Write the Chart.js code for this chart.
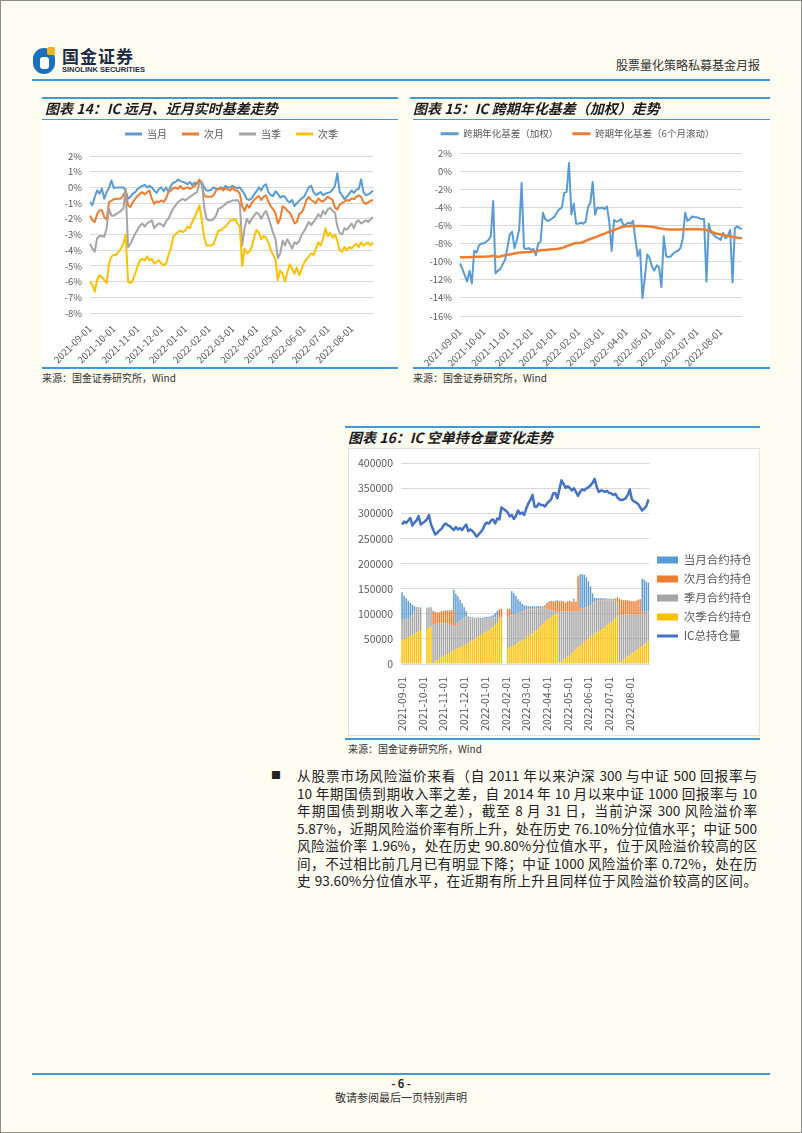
<!DOCTYPE html>
<html lang="zh-CN">
<head>
<meta charset="utf-8">
<title>股票量化策略私募基金月报</title>
<script src="https://cdn.jsdelivr.net/npm/chart.js@4.4.1/dist/chart.umd.min.js"></script>
<style>
  html, body { margin: 0; padding: 0; }
  body {
    position: relative; width: 802px; height: 1133px; overflow: hidden;
    background: #fffcf2; color: #222;
    font-family: 'Noto Sans CJK SC', 'Noto Sans', sans-serif;
  }
  .abs { position: absolute; white-space: nowrap; }
  .frame { position: absolute; left: 0; top: 0; width: 800px; height: 1131px; border: 1px solid #8c8c8c; }
  .rule { position: absolute; background: #3d9bd8; z-index: 3; }
  .panel { position: absolute; background: #fff; }
  .cv { position: absolute; z-index: 2; }
  .ttl { position: absolute; z-index: 4; font-size: 14px; line-height: 16px; font-weight: bold; font-style: italic; color: #1b1b1b; white-space: nowrap; }
  .src { position: absolute; font-size: 10px; line-height: 12px; color: #333; white-space: nowrap; }
  .para { position: absolute; left: 297px; width: 460px; height: 18px; font-size: 13.6px; line-height: 18px;
          text-align: justify; text-align-last: justify; white-space: nowrap; color: #222; }
</style>
</head>
<body>
<div class="frame"></div>

<!-- 页眉 -->
<div class="abs" style="left:33px;top:48px;width:22px;height:26px;border-radius:11px;background:#1b6fbe;"></div>
<div class="abs" style="left:40px;top:57px;width:9px;height:12px;border-radius:3px;background:#fff;"></div>
<div class="abs" style="left:47px;top:47px;width:8px;height:8px;border-radius:2px;background:#f2b21b;"></div>
<div class="abs" style="left:62px;top:46px;font-size:17px;line-height:20px;font-weight:bold;color:#1d2a44;letter-spacing:1px;">国金证券</div>
<div class="abs" style="left:62px;top:65px;font-size:7.5px;line-height:9px;font-weight:bold;color:#1d2a44;font-family:'Liberation Sans',sans-serif;">SINOLINK SECURITIES</div>
<div class="abs" style="left:560px;top:57px;width:200px;text-align:right;font-size:12px;line-height:16px;color:#333;">股票量化策略私募基金月报</div>
<div class="rule" style="left:32px;top:79px;width:738px;height:2px;"></div>

<!-- 图表 14 -->
<div class="rule" style="left:42px;top:97px;width:356px;height:2px;"></div>
<div class="ttl" style="left:45px;top:100px;">图表 14：IC 远月、近月实时基差走势</div>
<div class="rule" style="left:42px;top:119px;width:356px;height:1px;"></div>
<div class="panel" style="left:42px;top:120px;width:356px;height:247px;"></div>
<canvas id="c14" class="cv" width="356" height="253" style="left:42px;top:114px;"></canvas>
<div class="rule" style="left:42px;top:367px;width:356px;height:2px;"></div>
<div class="src" style="left:42px;top:372px;">来源：国金证券研究所，Wind</div>

<!-- 图表 15 -->
<div class="rule" style="left:410px;top:97px;width:360px;height:2px;"></div>
<div class="ttl" style="left:413px;top:100px;">图表 15：IC 跨期年化基差（加权）走势</div>
<div class="rule" style="left:413px;top:119px;width:357px;height:1px;"></div>
<div class="panel" style="left:413px;top:120px;width:357px;height:247px;"></div>
<canvas id="c15" class="cv" width="357" height="252" style="left:413px;top:115px;"></canvas>
<div class="rule" style="left:413px;top:367px;width:357px;height:2px;"></div>
<div class="src" style="left:413px;top:372px;">来源：国金证券研究所，Wind</div>

<!-- 图表 16 -->
<div class="rule" style="left:345px;top:426px;width:415px;height:2px;"></div>
<div class="ttl" style="left:348px;top:429px;">图表 16：IC 空单持仓量变化走势</div>
<div class="panel" style="left:348px;top:448px;width:410px;height:286px;border:1px solid #e3e3e3;"></div>
<canvas id="c16" class="cv" width="412" height="286" style="left:348px;top:449px;"></canvas>
<div class="rule" style="left:345px;top:738px;width:415px;height:2px;"></div>
<div class="src" style="left:348px;top:743px;">来源：国金证券研究所，Wind</div>

<!-- 正文 -->
<div class="abs" style="left:271px;top:767px;font-size:10px;line-height:16px;color:#222;">■</div>
<div class="para" style="top:766px;">从股票市场风险溢价来看（自 2011 年以来沪深 300 与中证 500 回报率与</div>
<div class="para" style="top:783.5px;">10 年期国债到期收入率之差，自 2014 年 10 月以来中证 1000 回报率与 10</div>
<div class="para" style="top:801px;">年期国债到期收入率之差），截至 8 月 31 日，当前沪深 300 风险溢价率</div>
<div class="para" style="top:818.5px;">5.87%，近期风险溢价率有所上升，处在历史 76.10%分位值水平；中证 500</div>
<div class="para" style="top:836px;">风险溢价率 1.96%，处在历史 90.80%分位值水平，位于风险溢价较高的区</div>
<div class="para" style="top:853.5px;">间，不过相比前几月已有明显下降；中证 1000 风险溢价率 0.72%，处在历</div>
<div class="para" style="top:871px;">史 93.60%分位值水平，在近期有所上升且同样位于风险溢价较高的区间。</div>

<!-- 页脚 -->
<div class="rule" style="left:32px;top:1073px;width:738px;height:2px;"></div>
<div class="abs" style="left:0;top:1076px;width:802px;text-align:center;font-size:11px;line-height:14px;font-weight:bold;color:#222;">- 6 -</div>
<div class="abs" style="left:0;top:1090px;width:802px;text-align:center;font-size:11px;line-height:14px;color:#333;">敬请参阅最后一页特别声明</div>

<script>
// 月份刻度（每月 10 个取样点）
const months = ['2021-09-01', '2021-10-01', '2021-11-01', '2021-12-01', '2022-01-01', '2022-02-01',
                '2022-03-01', '2022-04-01', '2022-05-01', '2022-06-01', '2022-07-01', '2022-08-01'];
const pointsPerMonth = 10;
const labels = months.flatMap(m => [m].concat(Array(pointsPerMonth - 1).fill('')));

// 图表 14：实时基差 (%)
const basisCur = [
  -0.93, -1.14, -0.61, -0.19, -0.4, -0.08, -0.72, -0.3, -0.04, 0.44,
  -0.04, 0, 0, 0, 0, -0.2, -0.72, -0.6, -0.4, -0.3,
  -0.1, 0, 0.1, 0.15, 0, 0.1, 0, -0.2, -0.35, -0.1,
  0, -0.25, 0, -0.3, 0.1, 0.3, 0.35, 0.5, 0.4, 0.35,
  0.3, 0.2, 0.35, 0.15, 0.3, 0.25, 0.4, 0.35, 0, -0.2,
  -0.2, -0.15, 0, -0.1, -0.1, 0, -0.1, 0.1, 0, 0,
  0.1, 0, -0.05, 0, -0.2, -0.45, -0.75, -0.8, -0.7, -0.45,
  -0.25, 0, -0.2, 0.1, 0.2, -0.3, -0.5, -0.55, -0.25, -0.4,
  -0.65, -0.55, -0.6, -0.85, -0.95, -0.8, -1.2, -1.0, -0.85, -0.7,
  -0.6, -0.3, 0, 0.1, -0.3, -0.5, -0.4, -0.3, -0.5, -0.4,
  -0.35, -0.3, -0.15, 0.1, 0.9, -0.3, -0.5, -0.75, -0.6, -0.4,
  -0.2, -0.35, -0.15, -0.1, 0.5, -0.3, -0.5, -0.45, -0.35, -0.2
];
const basisNext = [
  -1.8, -2.1, -2.2, -1.7, -1.45, -1.45, -1.9, -2.05, -0.95, -0.85,
  -0.75, -0.72, -0.72, -0.7, -0.5, -0.2, -1.15, -1.25, -0.95, -0.72,
  -0.55, -0.4, -0.3, -0.45, -0.3, -0.2, -0.72, -1.05, -0.9, -0.93,
  -0.83, -0.93, -0.7, -0.3, -0.2, -0.05, 0, -0.1, 0.1, -0.1,
  -0.05, 0, -0.1, 0, 0.1, 0.25, 0.5, 0.15, -0.5, -0.6,
  -0.6, -0.6, -0.5, -0.2, -0.1, -0.05, -0.2, -0.05, -0.12, -0.2,
  0, -0.2, -0.2, -0.4, -1.2, -1.5, -1.1, -1.3, -1.0, -0.8,
  -0.65, -0.55, -0.8, -0.6, -0.5, -0.9, -1.2, -1.4, -1.65, -2.3,
  -2.0, -1.2, -1.3, -1.5, -1.6, -1.9, -2.3, -2.2, -1.7, -1.6,
  -1.3, -0.8, -0.6, -0.8, -0.9, -1.0, -0.7, -0.85, -0.9, -0.75,
  -0.6, -0.7, -0.8, -1.3, -1.4, -1.1, -1.0, -0.9, -0.8, -0.85,
  -0.7, -0.75, -0.6, -0.5, -0.6, -0.95, -1.05, -0.95, -0.85, -0.8
];
const basisQuarter = [
  -3.6, -3.9, -4.1, -3.25, -3.1, -3.1, -3.15, -2.6, -1.35, -1.8,
  -1.8, -1.7, -1.6, -1.5, -1.35, -0.1, -3.8, -3.6, -3.25, -2.95,
  -2.7, -2.45, -2.3, -2.5, -2.3, -2.2, -2.1, -2.6, -2.4, -2.3,
  -2.35, -2.5, -2.15, -2.0, -1.65, -1.35, -1.15, -0.93, -0.83, -0.72,
  -0.83, -0.72, -0.6, -0.5, -0.4, -0.3, 0.25, 0.35, -1.25, -2.0,
  -2.1, -2.1, -2.0, -1.8, -1.35, -1.3, -1.2, -1.05, -0.93, -0.9,
  -0.83, -0.83, -0.8, -1.0, -3.7, -2.6, -2.0, -2.3, -2.0, -1.8,
  -1.6, -1.7, -2.0, -1.7, -1.5, -1.9, -2.4, -2.9, -3.3, -4.5,
  -4.2, -3.4, -3.7, -3.3, -3.6, -3.9, -3.5, -3.6, -3.4, -3.0,
  -2.8, -2.5, -2.2, -2.4, -2.2, -2.0, -1.7, -1.9, -1.5, -1.7,
  -1.4, -1.3, -1.5, -1.6, -2.5, -2.9, -3.0, -2.6, -2.7, -2.5,
  -2.3, -2.6, -2.2, -2.1, -2.3, -2.2, -2.1, -2.2, -2.0, -1.9
];
const basisNextQuarter = [
  -6.0, -6.2, -6.65, -5.9, -5.6, -5.7, -5.9, -6.1, -4.85, -4.4,
  -4.3, -4.3, -4.1, -3.9, -3.6, -3.0, -6.0, -6.1, -5.9, -5.5,
  -5.05, -4.65, -4.55, -4.65, -4.4, -4.65, -4.55, -4.85, -4.75, -4.65,
  -4.85, -4.95, -4.85, -4.3, -3.9, -3.15, -2.95, -2.85, -2.75, -2.85,
  -2.75, -2.5, -2.6, -2.2, -1.9, -1.55, -1.15, -2.1, -3.15, -3.7,
  -3.7, -3.7, -3.6, -3.15, -2.75, -2.75, -2.6, -2.5, -2.3, -2.1,
  -2.1, -2.0, -2.3, -2.5, -5.0, -3.9, -4.2, -4.1, -3.8, -3.2,
  -2.7, -2.9, -3.3, -3.1, -3.2, -3.5, -4.0, -4.3, -4.6, -5.9,
  -5.3, -5.5, -6.0, -5.4, -4.9, -5.2, -5.5, -5.1, -5.6, -5.2,
  -4.8, -4.6, -4.4, -4.2, -4.3, -3.9, -3.5, -3.7, -3.3, -2.6,
  -3.1, -2.9, -3.2, -3.0, -3.4, -4.0, -4.1, -3.8, -4.0, -3.8,
  -3.9, -3.7, -3.6, -3.8, -3.5, -3.7, -3.6, -3.5, -3.7, -3.5
];

// 图表 15：跨期年化基差 (%)
const spreadWeighted = [
  -10.2, -10.8, -11.5, -12.2, -11.0, -12.4, -8.8, -9.0, -8.2, -8.0,
  -8.0, -7.8, -7.6, -7.2, -3.3, -11.3, -11.0, -10.8, -10.3, -9.8,
  -8.5, -7.0, -6.7, -8.5, -7.6, -6.4, -1.3, -8.5, -8.6, -8.5,
  -8.7, -8.6, -9.3, -8.0, -7.8, -4.6, -5.3, -5.5, -5.4, -5.2,
  -5.0, -4.5, -4.2, -4.0, -2.4, -2.3, 0.9, -4.8, -3.6, -5.8,
  -5.8, -5.7, -5.8, -5.6, -4.0, -3.5, -1.2, -4.8, -4.0, -4.1,
  -4.0, -4.2, -3.9, -5.6, -8.8, -5.4, -5.6, -5.5, -5.3, -6.0,
  -5.9, -5.7, -5.8, -5.5, -7.5, -9.4, -8.7, -14.0, -11.8, -9.2,
  -9.6, -10.5, -11.0, -10.4, -10.6, -12.8, -7.2, -9.4, -9.5, -9.4,
  -9.1, -8.9, -8.8, -8.5, -7.5, -4.6, -5.5, -5.3, -5.0, -5.1,
  -5.1, -5.2, -5.3, -5.3, -12.2, -5.8, -6.8, -7.0, -7.3, -7.4,
  -7.6, -6.8, -7.4, -7.2, -6.5, -12.3, -6.3, -6.1, -6.3, -6.4
];
const spreadRolling6m = [
  -9.5, -9.5, -9.5, -9.5, -9.5, -9.48, -9.47, -9.46, -9.45, -9.45,
  -9.45, -9.44, -9.42, -9.4, -9.35, -9.4, -9.45, -9.42, -9.35, -9.3,
  -9.25, -9.2, -9.15, -9.1, -9.05, -9.0, -8.98, -8.95, -8.95, -8.93,
  -8.9, -8.88, -8.85, -8.8, -8.75, -8.72, -8.7, -8.68, -8.66, -8.64,
  -8.62, -8.6, -8.55, -8.5, -8.4, -8.3, -8.2, -8.1, -8.0, -7.95,
  -7.93, -7.9, -7.85, -7.7, -7.6, -7.5, -7.4, -7.3, -7.2, -7.1,
  -7.0, -6.9, -6.8, -6.7, -6.6, -6.5, -6.4, -6.3, -6.2, -6.15,
  -6.1, -6.08, -6.06, -6.05, -6.05, -6.05, -6.05, -6.06, -6.08, -6.1,
  -6.12, -6.15, -6.2, -6.25, -6.3, -6.35, -6.4, -6.42, -6.45, -6.45,
  -6.45, -6.45, -6.45, -6.44, -6.43, -6.42, -6.42, -6.42, -6.42, -6.42,
  -6.42, -6.43, -6.44, -6.45, -6.5, -6.6, -6.7, -6.8, -6.9, -6.95,
  -7.0, -7.05, -7.1, -7.15, -7.2, -7.25, -7.3, -7.35, -7.38, -7.4
];

// 图表 16：空单持仓（手）
const oiCurMonth = [
  55000, 48000, 42000, 36000, 28000, 20000, 10000, 3000, 1000, 1000,
  null, null, 1000, 1000, 1000, 2000, 1000, 1000, 1000, 1000,
  1000, 1000, 1000, 1000, 1000, 42000, 60000, 52000, 42000, 32000,
  20000, 10000, 3000, 2000, 2000, 2000, 2000, 2000, 2000, 2000,
  3000, 3000, 3000, 3000, 4000, 8000, 10000, 1000, 0, null,
  null, 0, 0, 46000, 43000, 36000, 28000, 22000, 15000, 10000,
  7000, 5000, 5000, 5000, 5000, 5000, 4000, 3000, 2000, 2000,
  2000, 1000, 1000, 1000, 1000, 1000, 1000, 0, 0, 0,
  0, 0, 0, 4000, 0, 0, 68000, 68000, 66000, 60000,
  50000, 38000, 20000, 8000, 5000, 4000, 4000, 3000, 3000, 2000,
  2000, 2000, 1000, 1000, 1000, 0, 0, 0, 0, 0,
  0, 0, 0, 0, 0, 0, 65000, 64000, 60000, 58000
];
const oiNextMonth = [
  0, 0, 0, 0, 0, 0, 0, 0, 0, 0,
  null, null, 0, 0, 0, 26000, 24000, 22000, 22000, 24000,
  24000, 25000, 26000, 28000, 30000, 30000, 5000, 3000, 2000, 1000,
  1000, 1000, 0, 0, 0, 0, 0, 0, 0, 0,
  0, 0, 0, 0, 0, 0, 2000, 16000, 16000, null,
  null, 18000, 14000, 3000, 2000, 2000, 1000, 1000, 1000, 1000,
  1000, 1000, 1000, 1000, 1000, 1000, 1000, 1000, 2000, 4000,
  10000, 16000, 18000, 18000, 20000, 22000, 22000, 22000, 20000, 18000,
  20000, 22000, 20000, 22000, 20000, 70000, 5000, 3000, 2000, 1000,
  1000, 1000, 1000, 1000, 1000, 1000, 1000, 1000, 1000, 1000,
  1000, 1000, 2000, 4000, 10000, 33000, 32000, 30000, 29000, 28000,
  28000, 27000, 27000, 28000, 30000, 30000, 5000, 3000, 2000, 1000
];
const oiQuarter = [
  40000, 38000, 37000, 36000, 38000, 40000, 45000, 47000, 46000, 44000,
  null, null, 41000, 40000, 38000, 76000, 74000, 72000, 70000, 68000,
  66000, 64000, 60000, 56000, 52000, 48000, 45000, 48000, 50000, 52000,
  54000, 54000, 50000, 46000, 43000, 40000, 37000, 34000, 32000, 29000,
  27000, 25000, 23000, 21000, 19000, 16000, 14000, 4000, 2000, null,
  null, 60000, 62000, 60000, 58000, 58000, 57000, 57000, 56000, 56000,
  55000, 53000, 50000, 47000, 44000, 41000, 38000, 35000, 31000, 27000,
  22000, 18000, 14000, 10000, 6000, 4000, 100000, 98000, 96000, 92000,
  90000, 86000, 82000, 78000, 74000, 72000, 70000, 68000, 66000, 64000,
  62000, 61000, 62000, 62000, 62000, 60000, 58000, 56000, 53000, 50000,
  47000, 44000, 41000, 36000, 28000, 94000, 90000, 88000, 86000, 84000,
  80000, 77000, 74000, 71000, 68000, 66000, 64000, 62000, 60000, 58000
];
const oiNextQuarter = [
  48000, 50000, 52000, 54000, 56000, 58000, 60000, 63000, 66000, 68000,
  null, null, 70000, 72000, 74000, 2000, 5000, 8000, 10000, 13000,
  15000, 17000, 20000, 22000, 25000, 28000, 30000, 32000, 34000, 36000,
  38000, 40000, 42000, 45000, 48000, 50000, 53000, 56000, 58000, 61000,
  63000, 66000, 68000, 71000, 74000, 77000, 80000, 88000, 92000, null,
  null, 32000, 34000, 36000, 38000, 40000, 43000, 45000, 48000, 50000,
  53000, 56000, 59000, 62000, 65000, 68000, 72000, 76000, 80000, 84000,
  88000, 90000, 93000, 96000, 99000, 100000, 3000, 6000, 9000, 12000,
  15000, 18000, 22000, 26000, 30000, 33000, 36000, 40000, 44000, 48000,
  52000, 55000, 58000, 61000, 63000, 66000, 68000, 71000, 74000, 77000,
  80000, 83000, 86000, 90000, 94000, 3000, 6000, 9000, 12000, 15000,
  18000, 21000, 24000, 27000, 30000, 33000, 36000, 39000, 42000, 45000
];
const oiTotal = [
  278000, 284000, 281000, 286000, 291000, 276000, 282000, 286000, 295000, 278000,
  281000, 284000, 288000, 297000, 278000, 268000, 258000, 261000, 266000, 269000,
  276000, 280000, 277000, 275000, 271000, 267000, 273000, 268000, 271000, 267000,
  273000, 278000, 265000, 268000, 265000, 260000, 254000, 258000, 263000, 268000,
  278000, 282000, 280000, 286000, 288000, 280000, 290000, 288000, 312000, 309000,
  306000, 302000, 294000, 297000, 289000, 295000, 306000, 299000, 302000, 297000,
  310000, 320000, 327000, 337000, 314000, 313000, 320000, 317000, 317000, 314000,
  320000, 324000, 328000, 340000, 341000, 330000, 348000, 366000, 359000, 351000,
  354000, 351000, 346000, 350000, 343000, 335000, 343000, 348000, 346000, 350000,
  352000, 356000, 361000, 369000, 353000, 343000, 346000, 345000, 343000, 345000,
  341000, 340000, 337000, 339000, 332000, 328000, 327000, 328000, 330000, 337000,
  348000, 328000, 324000, 322000, 319000, 312000, 306000, 310000, 315000, 328000
];

Chart.defaults.font.family = "'Noto Sans CJK SC', sans-serif";
Chart.defaults.color = '#595959';

const gridColor = '#d9d9d9';
const monthTick = (v, i) => labels[i] || null;
const byIndex = (a, b) => a.datasetIndex - b.datasetIndex;

// 图例线段样式
function lineLegend(chart) {
  return Chart.defaults.plugins.legend.labels.generateLabels(chart).map(item => {
    item.pointStyle = 'line';
    item.lineWidth = 3;
    return item;
  });
}

// 图例与绘图区之间的留白
function spacer(h) {
  return {
    type: 'category', position: 'top',
    grid: { display: false, drawTicks: false }, border: { display: false },
    ticks: { display: false },
    afterFit: s => { s.height = h; }
  };
}

function lineSet(label, data, color, order, width) {
  return {
    label: label, data: data, borderColor: color, backgroundColor: color,
    borderWidth: width || 2, pointRadius: 0, tension: 0, borderJoinStyle: 'round', order: order
  };
}

// 图表 14
new Chart(document.getElementById('c14'), {
  type: 'line',
  data: {
    labels: labels,
    datasets: [
      lineSet('当月', basisCur, '#5B9BD5', 4),
      lineSet('次月', basisNext, '#ED7D31', 3),
      lineSet('当季', basisQuarter, '#A5A5A5', 2),
      lineSet('次季', basisNextQuarter, '#FFC000', 1)
    ]
  },
  options: {
    responsive: false, animation: false, devicePixelRatio: 1,
    layout: { padding: { left: 0, right: 25, top: 0, bottom: 0 } },
    plugins: {
      legend: {
        position: 'top', fullSize: false,
        labels: { usePointStyle: true, pointStyleWidth: 17, boxHeight: 10, padding: 15,
                  color: '#595959', font: { size: 10 }, generateLabels: lineLegend, sort: byIndex }
      },
      tooltip: { enabled: false }
    },
    scales: {
      x: {
        grid: { display: false }, border: { display: false },
        ticks: { autoSkip: false, minRotation: 45, maxRotation: 45, padding: 2,
                 font: { size: 9.5 }, color: '#595959', callback: monthTick },
        afterFit: s => { s.height = 54; }
      },
      pad: spacer(7),
      y: {
        min: -8, max: 2,
        grid: { color: gridColor, drawTicks: false }, border: { display: false },
        ticks: { stepSize: 1, padding: 8, font: { size: 9.5 }, color: '#595959', callback: v => v + '%' },
        afterFit: s => { s.width = 48; }
      }
    }
  }
});

// 图表 15
new Chart(document.getElementById('c15'), {
  type: 'line',
  data: {
    labels: labels,
    datasets: [
      lineSet('跨期年化基差（加权）', spreadWeighted, '#5B9BD5', 2),
      lineSet('跨期年化基差（6个月滚动）', spreadRolling6m, '#ED7D31', 1, 2.5)
    ]
  },
  options: {
    responsive: false, animation: false, devicePixelRatio: 1,
    layout: { padding: { left: 0, right: 28, top: 0, bottom: 0 } },
    plugins: {
      legend: {
        position: 'top',
        labels: { usePointStyle: true, pointStyleWidth: 18, boxHeight: 9.5, padding: 14,
                  color: '#595959', font: { size: 9.5 }, generateLabels: lineLegend, sort: byIndex }
      },
      tooltip: { enabled: false }
    },
    scales: {
      x: {
        grid: { display: false }, border: { display: false },
        ticks: { autoSkip: false, minRotation: 45, maxRotation: 45, padding: 2,
                 font: { size: 9.5 }, color: '#595959', callback: monthTick },
        afterFit: s => { s.height = 51; }
      },
      pad: spacer(4.5),
      y: {
        min: -16, max: 2,
        grid: { color: gridColor, drawTicks: false }, border: { display: false },
        ticks: { stepSize: 2, padding: 8, font: { size: 9.5 }, color: '#595959', callback: v => v + '%' },
        afterFit: s => { s.width = 47; }
      }
    }
  }
});

// 图表 16
const legendRank = [3, 2, 1, 0, 4];
function barSet(label, data, color) {
  return { type: 'bar', label: label, data: data, backgroundColor: color, borderWidth: 0,
           barPercentage: 0.7, categoryPercentage: 1, stack: 'oi' };
}

new Chart(document.getElementById('c16'), {
  type: 'bar',
  data: {
    labels: labels,
    datasets: [
      barSet('次季合约持仓', oiNextQuarter, '#FFC000'),
      barSet('季月合约持仓', oiQuarter, '#A5A5A5'),
      barSet('次月合约持仓', oiNextMonth, '#ED7D31'),
      barSet('当月合约持仓', oiCurMonth, '#5B9BD5'),
      { type: 'line', label: 'IC总持仓量', data: oiTotal, borderColor: '#4472C4', backgroundColor: '#4472C4',
        borderWidth: 2.5, pointRadius: 0, tension: 0, borderJoinStyle: 'round', stack: 'total', order: -1 }
    ]
  },
  options: {
    responsive: false, animation: false, devicePixelRatio: 1,
    layout: { padding: { left: 0, right: 10, top: 12, bottom: 0 } },
    plugins: {
      legend: {
        position: 'right',
        labels: {
          usePointStyle: true, pointStyleWidth: 21, boxHeight: 7, padding: 7.5,
          color: '#595959', font: { size: 11.5 },
          generateLabels: chart => Chart.defaults.plugins.legend.labels.generateLabels(chart).map(item => {
            item.pointStyle = item.datasetIndex === 4 ? 'line' : 'rect';
            if (item.datasetIndex === 4) item.lineWidth = 3;
            return item;
          }),
          sort: (a, b) => legendRank[a.datasetIndex] - legendRank[b.datasetIndex]
        }
      },
      tooltip: { enabled: false }
    },
    scales: {
      x: {
        stacked: true,
        grid: { display: false }, border: { display: false },
        ticks: { autoSkip: false, minRotation: 90, maxRotation: 90, padding: 5,
                 font: { size: 10.5 }, color: '#595959', callback: monthTick },
        afterFit: s => { s.height = 71; }
      },
      y: {
        stacked: true, min: 0, max: 400000,
        grid: { color: gridColor, drawTicks: false }, border: { display: false },
        ticks: { stepSize: 50000, padding: 8, font: { size: 10.5 }, color: '#595959', callback: v => String(v) },
        afterFit: s => { s.width = 53; }
      }
    }
  }
});
</script>
</body>
</html>
